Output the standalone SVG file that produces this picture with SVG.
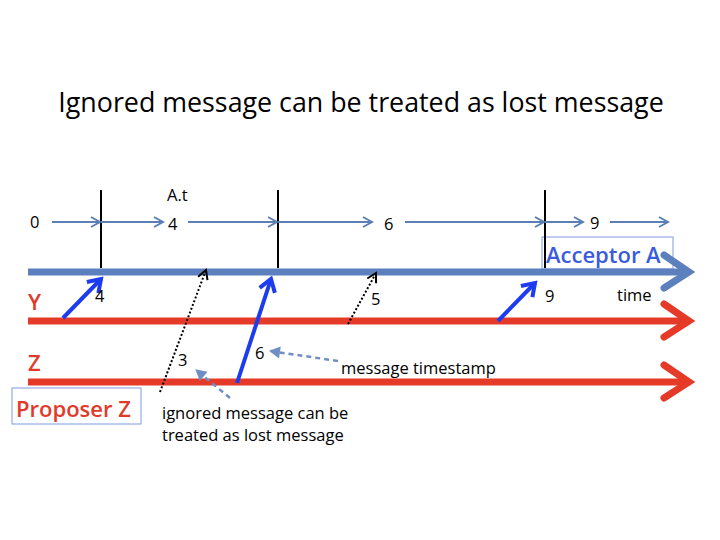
<svg xmlns="http://www.w3.org/2000/svg" width="720" height="540" viewBox="0 0 720 540">
<defs>
<style>
text{font-family:"Open Sans","DejaVu Sans",sans-serif;fill:#000}
.lbl{font-size:16.5px}
.red{fill:#e03a2a;font-size:22px;font-weight:600}
.blueT{fill:#3a5bdb;font-size:22px;font-weight:600}
.thin{stroke:#5b7fb5;stroke-width:2;fill:none}
.msg{stroke:#1d3cf0;stroke-width:4;fill:none;marker-end:url(#bh)}
.dot{stroke:#000;stroke-width:2;stroke-dasharray:2 2;fill:none;marker-end:url(#dh)}
.dash{stroke:#6f8fc4;stroke-width:2.5;stroke-dasharray:5 4;fill:none;marker-end:url(#gh)}
.vl{stroke:#000;stroke-width:2}
</style>
<marker id="sh" markerWidth="12" markerHeight="12" refX="10" refY="6" orient="auto" markerUnits="userSpaceOnUse">
<path d="M1,1 L10,6 L1,11" fill="none" stroke="#5b7fb5" stroke-width="2"/>
</marker>
<marker id="bh" markerWidth="20" markerHeight="20" refX="14" refY="10" orient="auto" markerUnits="userSpaceOnUse">
<path d="M2,2 L14,10 L2,18" fill="none" stroke="#1d3cf0" stroke-width="4"/>
</marker>
<marker id="dh" markerWidth="14" markerHeight="14" refX="11" refY="7" orient="auto" markerUnits="userSpaceOnUse">
<path d="M2,2 L11,7 L2,12" fill="none" stroke="#000" stroke-width="2"/>
</marker>
<marker id="gh" markerWidth="14" markerHeight="14" refX="11" refY="7" orient="auto" markerUnits="userSpaceOnUse">
<path d="M1,1 L12,7 L1,13 Z" fill="#6f8fc4"/>
</marker>
</defs>
<rect width="720" height="540" fill="#fff"/>
<text x="361" y="112" font-size="26.8" text-anchor="middle">Ignored message can be treated as lost message</text>

<g id="acceptor-a">
<rect x="542" y="237" width="131" height="32" fill="none" stroke="#7f9be0" stroke-width="1"/>
<text class="blueT" x="546" y="263">Acceptor A</text>
</g>

<g id="timelines">
<g id="acceptor-line">
<line x1="28" y1="272" x2="688" y2="272" stroke="#5b80bd" stroke-width="7"/>
<path d="M664,255 L689,272 L664,288" fill="none" stroke="#5b80bd" stroke-width="7" stroke-linecap="round"/>
</g>
<g id="y-line">
<line x1="28" y1="321" x2="688" y2="321" stroke="#e53a28" stroke-width="7"/>
<path d="M664,304 L689,321 L664,337" fill="none" stroke="#e53a28" stroke-width="7" stroke-linecap="round"/>
</g>
<g id="z-line">
<line x1="28" y1="382" x2="688" y2="382" stroke="#e53a28" stroke-width="7"/>
<path d="M664,365 L689,382 L664,398" fill="none" stroke="#e53a28" stroke-width="7" stroke-linecap="round"/>
</g>
</g>

<g id="ticks">
<line class="vl" x1="101" y1="190" x2="101" y2="268"/>
<line class="vl" x1="278" y1="190" x2="278" y2="268"/>
<line class="vl" x1="545" y1="190" x2="545" y2="268"/>
</g>

<g id="connectors">
<line class="thin" x1="52" y1="222" x2="100" y2="222" marker-end="url(#sh)"/>
<line class="thin" x1="101" y1="222" x2="163" y2="222" marker-end="url(#sh)"/>
<line class="thin" x1="188" y1="222" x2="277" y2="222" marker-end="url(#sh)"/>
<line class="thin" x1="278" y1="222" x2="372" y2="222" marker-end="url(#sh)"/>
<line class="thin" x1="405" y1="222" x2="544" y2="222" marker-end="url(#sh)"/>
<line class="thin" x1="545" y1="222" x2="583" y2="222" marker-end="url(#sh)"/>
<line class="thin" x1="610" y1="222" x2="668" y2="222" marker-end="url(#sh)"/>

<line class="msg" x1="63" y1="318" x2="101" y2="279"/>
<line class="msg" x1="237" y1="383" x2="271" y2="279"/>
<line class="msg" x1="498" y1="321" x2="535" y2="283"/>

<line class="dot" x1="160" y1="392" x2="206" y2="270"/>
<line class="dot" x1="348" y1="324" x2="376" y2="273"/>

<line class="dash" x1="338" y1="361" x2="270" y2="351"/>
<line class="dash" x1="230" y1="398" x2="196" y2="370"/>
</g>

<g id="labels">
<text class="lbl" x="30" y="228">0</text>
<text class="lbl" x="167" y="201">A.t</text>
<text class="lbl" x="168" y="230">4</text>
<text class="lbl" x="384" y="230">6</text>
<text class="lbl" x="590" y="229">9</text>
<text class="lbl" x="95" y="302">4</text>
<text class="lbl" x="371" y="305">5</text>
<text class="lbl" x="545" y="302">9</text>
<text class="lbl" x="617" y="301">time</text>
<text class="lbl" x="178" y="366">3</text>
<text class="lbl" x="255" y="359">6</text>
<text class="lbl" x="341" y="374">message timestamp</text>
<text class="lbl" x="162" y="419">ignored message can be</text>
<text class="lbl" x="162" y="441">treated as lost message</text>
<text class="red" x="28" y="310">Y</text>
<text class="red" x="28" y="371">Z</text>
</g>

<g id="proposer-z">
<rect x="12" y="388" width="129" height="36" fill="#fff" stroke="#7f9be0" stroke-width="1"/>
<text class="red" x="16" y="417">Proposer Z</text>
</g>
</svg>
